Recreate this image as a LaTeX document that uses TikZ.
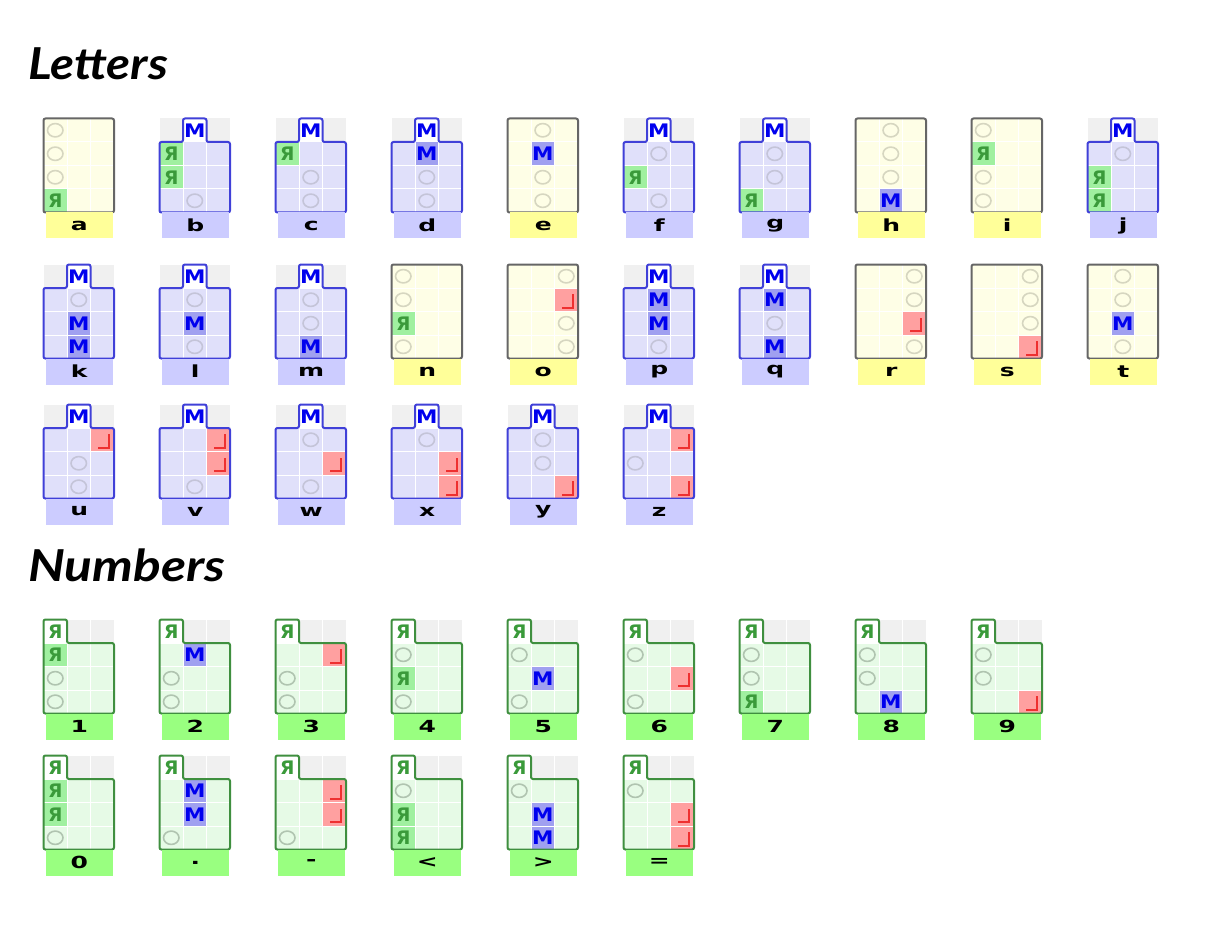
\documentclass[tikz,border=0pt]{standalone}
\usepackage{fontspec}
\newfontfamily\symfont{DejaVu Sans}
\newfontfamily\labfont{DejaVu Sans}
\newfontfamily\headfont{Lato}
\definecolor{ybg}{HTML}{FEFEE6}
\definecolor{yline}{HTML}{666666}
\definecolor{ylab}{HTML}{FFFF99}
\definecolor{yring}{HTML}{D6D6C0}
\definecolor{bbg}{HTML}{E0E0FA}
\definecolor{bline}{HTML}{4040D8}
\definecolor{blab}{HTML}{CCCCFF}
\definecolor{bring}{HTML}{C4C4D8}
\definecolor{gbg}{HTML}{E6FAE6}
\definecolor{gline}{HTML}{3F8F3F}
\definecolor{glab}{HTML}{99FF80}
\definecolor{gring}{HTML}{B0C4B0}
\definecolor{tabrow}{HTML}{F0F0F0}
\definecolor{hiM}{HTML}{A0A0F0}
\definecolor{hiR}{HTML}{A0F0A0}
\definecolor{hiL}{HTML}{FFA0A0}
\definecolor{txM}{HTML}{0000EE}
\definecolor{txR}{HTML}{3A9A3A}
\definecolor{txL}{HTML}{EE3030}
\tikzset{
  gridline/.style={draw=white, line width=0.75pt},
  yframe/.style={draw=yline, line width=1.5pt, rounded corners=1.5pt},
  bframe/.style={draw=bline, line width=1.5pt, rounded corners=1.5pt},
  gframe/.style={draw=gline, line width=1.5pt, rounded corners=1.5pt},
  ring/.style={line width=1.2pt},
  glyphM/.style={text=txM, font=\symfont\bfseries\fontsize{14}{15}\selectfont, inner sep=0pt},
  glyphR/.style={text=txR, font=\symfont\bfseries\fontsize{14}{15}\selectfont, inner sep=0pt},
  corner/.style={draw=txL, line width=1.6pt},
  lab/.style={minimum width=50.6pt, minimum height=19.5pt, inner sep=0pt, font=\labfont\bfseries\fontsize{12.5}{13}\selectfont},
  head/.style={font=\headfont\bfseries\itshape\fontsize{33}{36}\selectfont, inner sep=0pt},
}
\newcommand{\cellw}{23.5}
\newcommand{\cardw}{70.5}
\newcommand{\cardh}{94}
\newcommand{\ringcol}{yring}
\newcommand{\labtext}[1]{\scalebox{1.5}[1]{#1}}
\newcommand{\wideM}{\scalebox{1.15}[1]{M}}
% one cell of a card: ring, green R, blue M, red corner
\newcommand{\markO}[3]{\draw[ring, draw=\ringcol] ({(#2-0.5)*\cellw},{(#3-0.5)*\cellw}) ellipse [x radius=5.8pt, y radius=5pt];}
\newcommand{\markR}[3]{%
  \fill[hiR] ({(#2-1)*\cellw+0.5},{(#3-1)*\cellw+0.5}) rectangle ++(\cellw-1,\cellw-1);
  \node[glyphR] (#1-#2#3) at ({(#2-0.5)*\cellw},{(#3-0.5)*\cellw}) {Я};}
\newcommand{\markM}[3]{%
  \fill[hiM] ({(#2-1)*\cellw+0.5},{(#3-1)*\cellw+0.5}) rectangle ++(\cellw-1,\cellw-1);
  \node[glyphM] (#1-#2#3) at ({(#2-0.5)*\cellw},{(#3-0.5)*\cellw}) {\wideM};}
\newcommand{\markL}[3]{%
  \begin{scope}[shift={({(#2-1)*\cellw},{(#3-1)*\cellw})}]
    \fill[hiL] (0.5,0.5) rectangle (\cellw-0.5,\cellw-0.5);
    \draw[corner] (0.33*\cellw,0.84*\cellw) -- (0.8*\cellw,0.84*\cellw) -- (0.8*\cellw,0.27*\cellw);
  \end{scope}}
\newcommand{\cardgrid}{%
  \foreach \i in {1,2} \draw[gridline] (\i*\cellw,0) -- (\i*\cellw,\cardh);
  \foreach \j in {1,2,3} \draw[gridline] (0,\j*\cellw) -- (\cardw,\j*\cellw);}
\newcommand{\cardmarks}[2]{%
  \foreach \cx/\cy/\ck in {#2} {\csname mark\ck\endcsname{#1}{\cx}{\cy}}}
% yellow card, no tab: name, x, y, label, marks
\newcommand{\ycard}[5]{%
  \begin{scope}[shift={(#2,#3)}]
    \renewcommand{\ringcol}{yring}
    \fill[ybg] (0,0) rectangle (\cardw,\cardh);
    \cardgrid
    \cardmarks{#1}{#5}
    \draw[yframe] (0,0) rectangle (\cardw,\cardh);
    \node[lab, fill=ylab] (lab-#1) at (\cardw/2+0.5,\cardh+13) {\labtext{#4}};
  \end{scope}}
% blue card, M tab in the middle column
\newcommand{\bcard}[5]{%
  \begin{scope}[shift={(#2,#3)}]
    \renewcommand{\ringcol}{bring}
    \fill[tabrow] (0,0) rectangle (\cardw,\cellw);
    \fill[white] (\cellw,0) rectangle (2*\cellw,\cellw);
    \fill[bbg] (0,\cellw) rectangle (\cardw,\cardh);
    \cardgrid
    \cardmarks{#1}{#5}
    \draw[bframe] (0,\cellw) -- (\cellw,\cellw) -- (\cellw,0) -- (2*\cellw,0) -- (2*\cellw,\cellw)
      -- (\cardw,\cellw) -- (\cardw,\cardh) -- (0,\cardh) -- cycle;
    \node[glyphM] (tab-#1) at (1.5*\cellw,0.5*\cellw) {\wideM};
    \node[lab, fill=blab] (lab-#1) at (\cardw/2+0.5,\cardh+13) {\labtext{#4}};
  \end{scope}}
% green card, R tab in the first column
\newcommand{\gcard}[5]{%
  \begin{scope}[shift={(#2,#3)}]
    \renewcommand{\ringcol}{gring}
    \fill[tabrow] (0,0) rectangle (\cardw,\cellw);
    \fill[white] (0,0) rectangle (\cellw,\cellw);
    \fill[gbg] (0,\cellw) rectangle (\cardw,\cardh);
    \cardgrid
    \cardmarks{#1}{#5}
    \draw[gframe] (0,0) -- (\cellw,0) -- (\cellw,\cellw) -- (\cardw,\cellw) -- (\cardw,\cardh)
      -- (0,\cardh) -- cycle;
    \node[glyphR] (tab-#1) at (0.5*\cellw,0.5*\cellw) {Я};
    \node[lab, fill=glab] (lab-#1) at (\cardw/2+0.5,\cardh+13) {\labtext{#4}};
  \end{scope}}
\begin{document}
\begin{tikzpicture}[x=0.75pt,y=-0.75pt]
\useasboundingbox (0,0) rectangle (1209,934);
\fill[white] (0,0) rectangle (1209,934);
\node[head, anchor=base west] (hletters) at (28,80) {\scalebox{1.12}[1]{Letters}};
\node[head, anchor=base west] (hnumbers) at (28,581) {\scalebox{1.17}[1]{Numbers}};
% letters
\ycard{a}{43.5}{118.5}{a}{1/1/O,1/2/O,1/3/O,1/4/R}
\bcard{b}{159.5}{118.5}{b}{1/2/R,1/3/R,2/4/O}
\bcard{c}{275.5}{118.5}{c}{1/2/R,2/3/O,2/4/O}
\bcard{d}{391.5}{118.5}{d}{2/2/M,2/3/O,2/4/O}
\ycard{e}{507.5}{118.5}{e}{2/1/O,2/2/M,2/3/O,2/4/O}
\bcard{f}{623.5}{118.5}{f}{2/2/O,1/3/R,2/4/O}
\bcard{g}{739.5}{118.5}{g}{2/2/O,2/3/O,1/4/R}
\ycard{h}{855.5}{118.5}{h}{2/1/O,2/2/O,2/3/O,2/4/M}
\ycard{i}{971.5}{118.5}{i}{1/1/O,1/2/R,1/3/O,1/4/O}
\bcard{j}{1087.5}{118.5}{j}{2/2/O,1/3/R,1/4/R}
\bcard{k}{43.5}{264.5}{k}{2/2/O,2/3/M,2/4/M}
\bcard{l}{159.5}{264.5}{l}{2/2/O,2/3/M,2/4/O}
\bcard{m}{275.5}{264.5}{m}{2/2/O,2/3/O,2/4/M}
\ycard{n}{391.5}{264.5}{n}{1/1/O,1/2/O,1/3/R,1/4/O}
\ycard{o}{507.5}{264.5}{o}{3/1/O,3/2/L,3/3/O,3/4/O}
\bcard{p}{623.5}{264.5}{p}{2/2/M,2/3/M,2/4/O}
\bcard{q}{739.5}{264.5}{q}{2/2/M,2/3/O,2/4/M}
\ycard{r}{855.5}{264.5}{r}{3/1/O,3/2/O,3/3/L,3/4/O}
\ycard{s}{971.5}{264.5}{s}{3/1/O,3/2/O,3/3/O,3/4/L}
\ycard{t}{1087.5}{264.5}{t}{2/1/O,2/2/O,2/3/M,2/4/O}
\bcard{u}{43.5}{404.5}{u}{3/2/L,2/3/O,2/4/O}
\bcard{v}{159.5}{404.5}{v}{3/2/L,3/3/L,2/4/O}
\bcard{w}{275.5}{404.5}{w}{2/2/O,3/3/L,2/4/O}
\bcard{x}{391.5}{404.5}{x}{2/2/O,3/3/L,3/4/L}
\bcard{y}{507.5}{404.5}{y}{2/2/O,2/3/O,3/4/L}
\bcard{z}{623.5}{404.5}{z}{3/2/L,1/3/O,3/4/L}
% numbers
\gcard{n1}{43.5}{619.5}{1}{1/2/R,1/3/O,1/4/O}
\gcard{n2}{159.5}{619.5}{2}{2/2/M,1/3/O,1/4/O}
\gcard{n3}{275.5}{619.5}{3}{3/2/L,1/3/O,1/4/O}
\gcard{n4}{391.5}{619.5}{4}{1/2/O,1/3/R,1/4/O}
\gcard{n5}{507.5}{619.5}{5}{1/2/O,2/3/M,1/4/O}
\gcard{n6}{623.5}{619.5}{6}{1/2/O,3/3/L,1/4/O}
\gcard{n7}{739.5}{619.5}{7}{1/2/O,1/3/O,1/4/R}
\gcard{n8}{855.5}{619.5}{8}{1/2/O,1/3/O,2/4/M}
\gcard{n9}{971.5}{619.5}{9}{1/2/O,1/3/O,3/4/L}
\gcard{n0}{43.5}{755.5}{0}{1/2/R,1/3/R,1/4/O}
\gcard{ndot}{159.5}{755.5}{.}{2/2/M,2/3/M,1/4/O}
\gcard{ndash}{275.5}{755.5}{-}{3/2/L,3/3/L,1/4/O}
\gcard{nlt}{391.5}{755.5}{<}{1/2/O,1/3/R,1/4/R}
\gcard{ngt}{507.5}{755.5}{>}{1/2/O,2/3/M,2/4/M}
\gcard{neq}{623.5}{755.5}{=}{1/2/O,3/3/L,3/4/L}
\end{tikzpicture}
\end{document}
